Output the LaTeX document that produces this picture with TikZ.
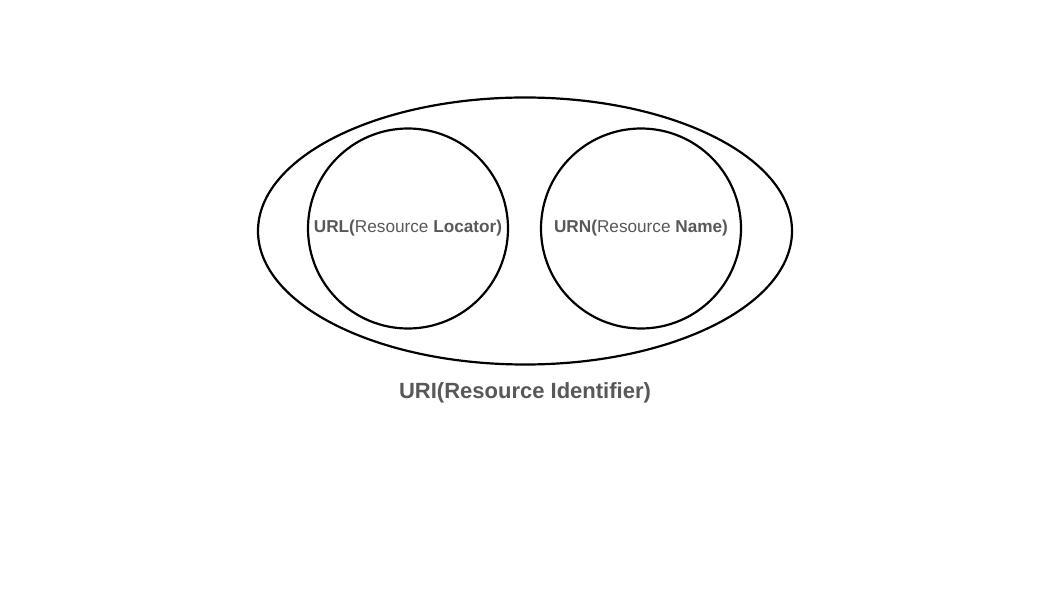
\documentclass[tikz,border=0pt]{standalone}
\usepackage{fontspec}
\setmainfont{Liberation Sans}
\usetikzlibrary{shapes.geometric}
\definecolor{textgray}{HTML}{58585A}
\tikzset{
  set/.style={draw, line width=2.2pt, inner sep=0pt},
  setlabel/.style={text=textgray, font=\fontsize{17.2}{20}\selectfont}
}
\begin{document}
\begin{tikzpicture}[x=1pt,y=1pt]
  \useasboundingbox (0,0) rectangle (1049,589);
  % multimea mare
  \node[set, ellipse, minimum width=534pt, minimum height=267pt] (uri) at (525,358) {};
  % cele doua cercuri
  \node[set, circle, minimum size=200pt, setlabel] (url) at (408,360.5) {\textbf{URL(}Resource \textbf{Locator)}};
  \node[set, circle, minimum size=200pt, setlabel] (urn) at (641,360.5) {\textbf{URN(}Resource \textbf{Name)}};
  % eticheta
  \node[text=textgray, font=\fontsize{22}{26}\selectfont\bfseries] (urilabel) at (525,196) {URI(Resource Identifier)};
\end{tikzpicture}
\end{document}
